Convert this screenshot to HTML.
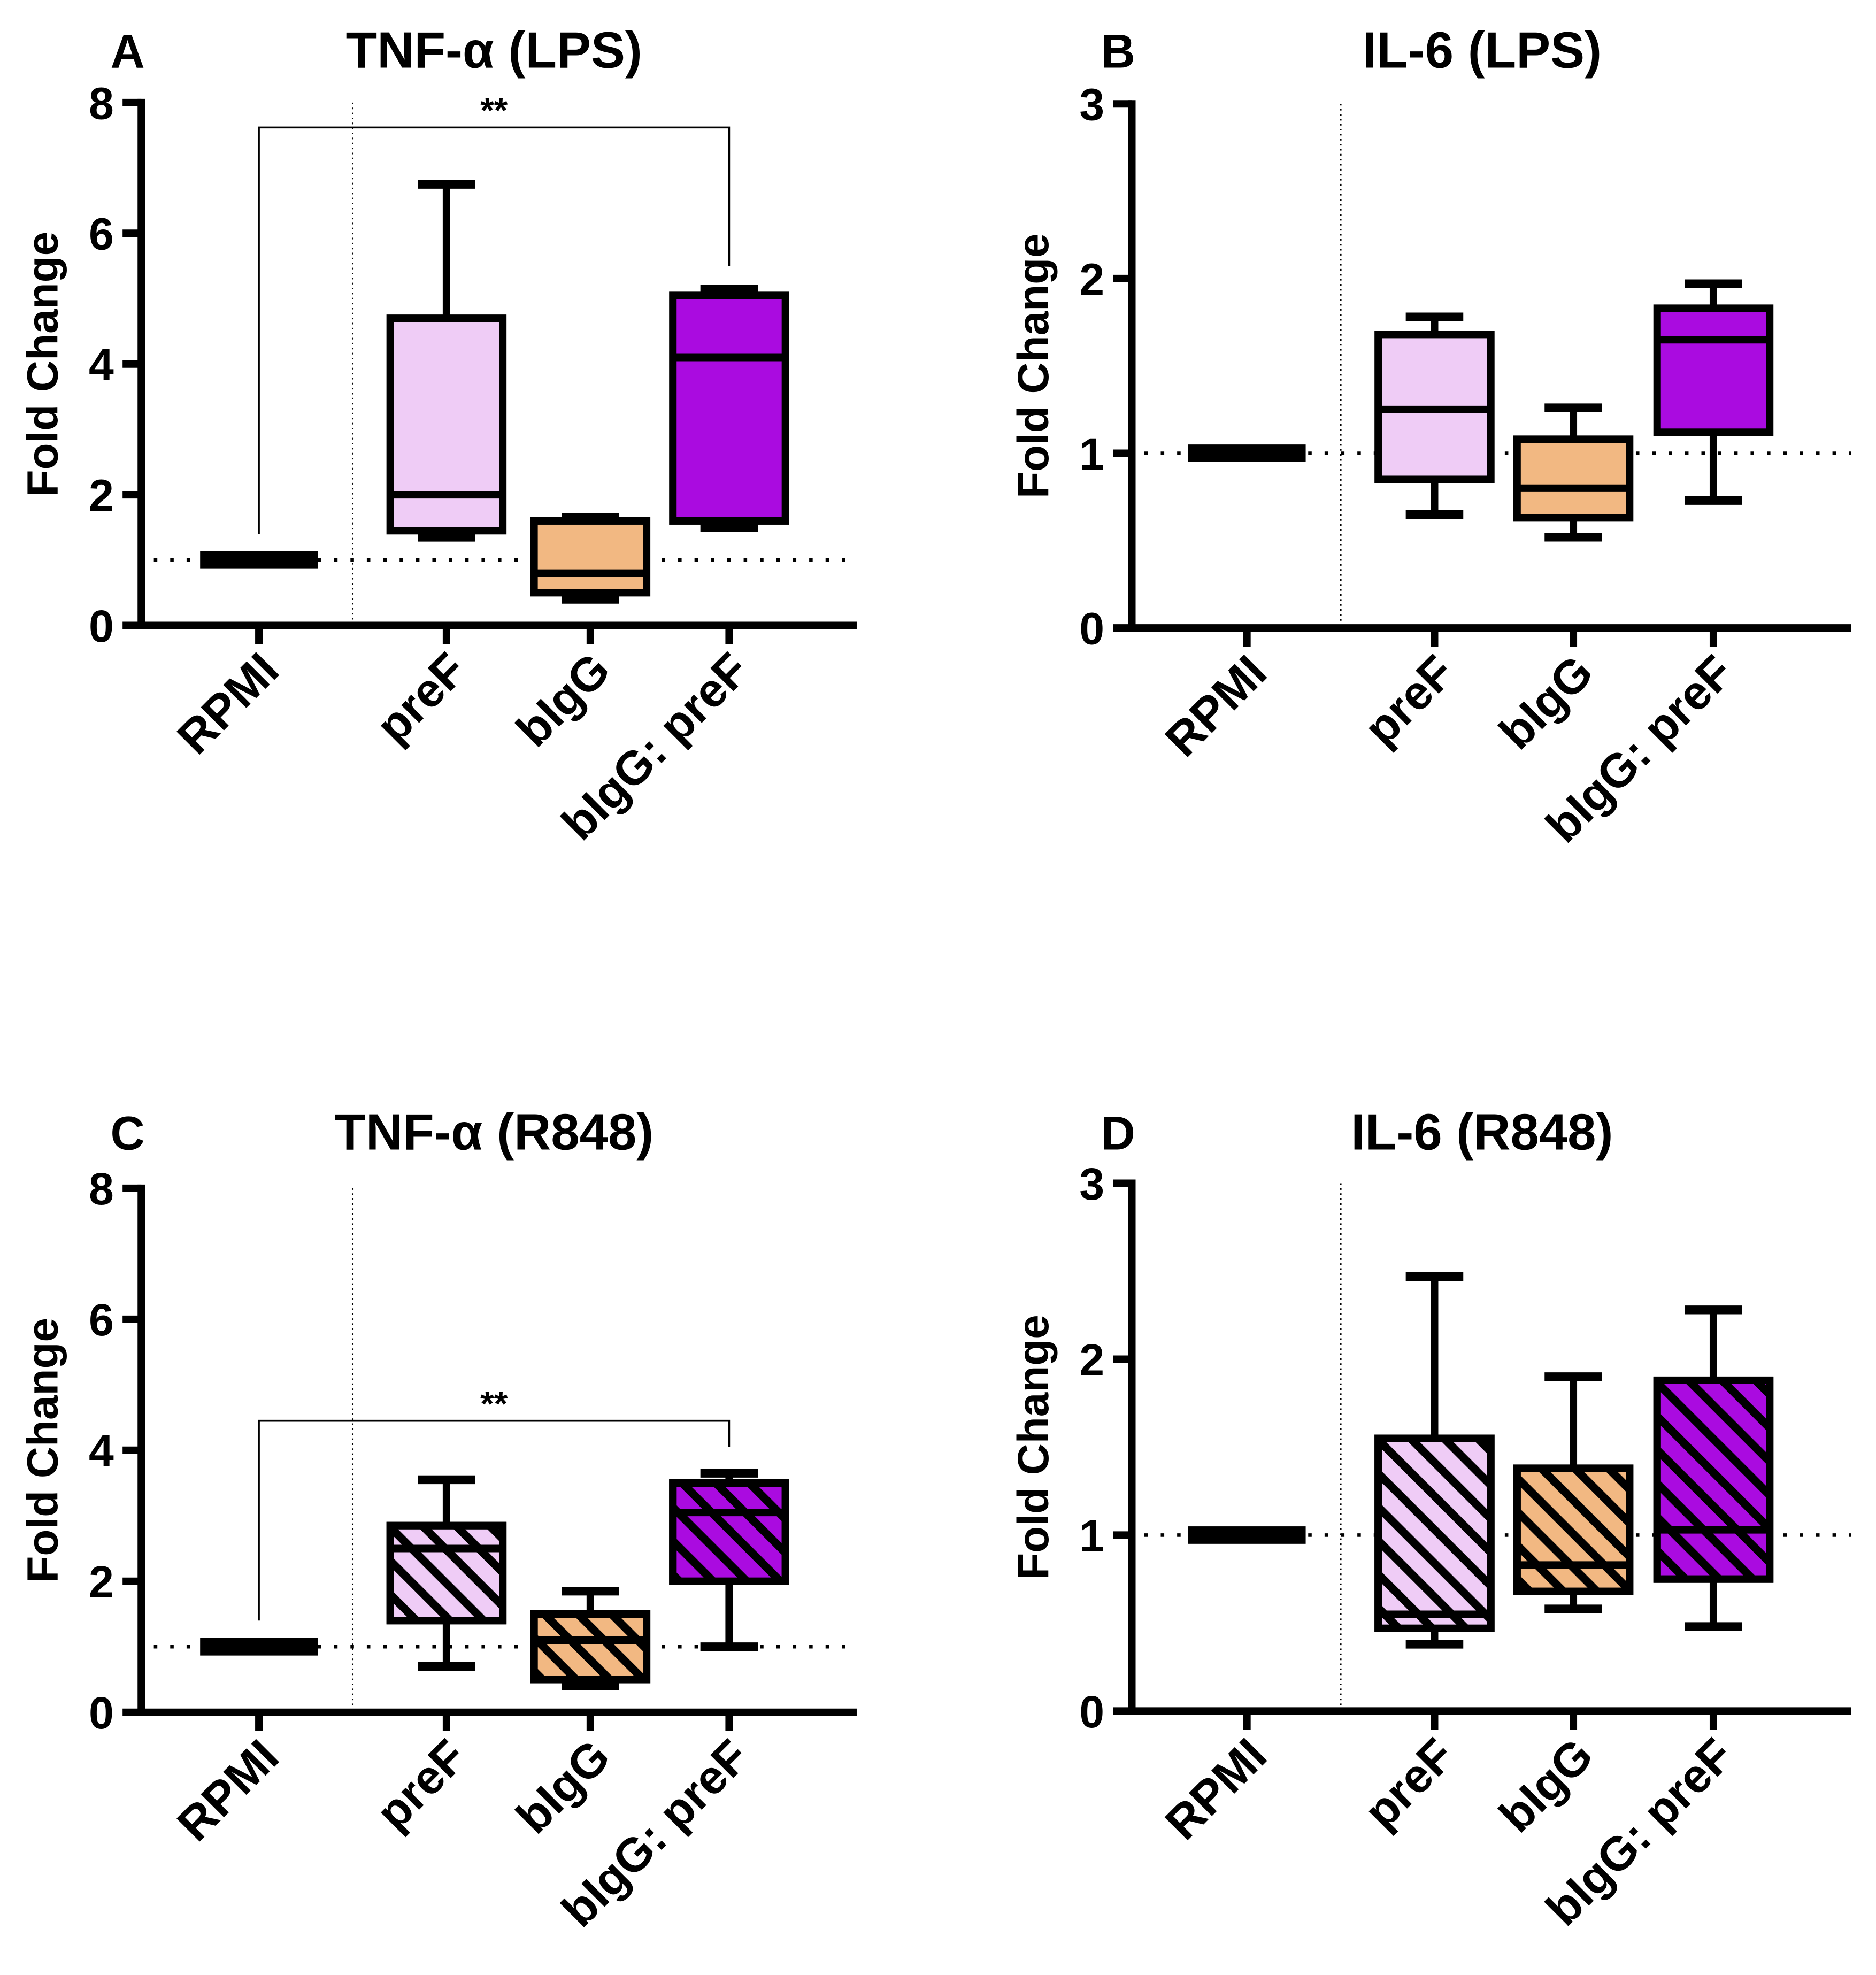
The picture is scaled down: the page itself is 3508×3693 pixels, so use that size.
<!DOCTYPE html>
<html><head><meta charset="utf-8"><style>
html,body{margin:0;padding:0;background:#fff}
svg{display:block}
text{font-family:"Liberation Sans",Arial,sans-serif;font-weight:bold;fill:#000}
</style></head><body>
<svg id="fig" width="3508" height="3693" viewBox="0 0 1500 1579" xmlns="http://www.w3.org/2000/svg">
<defs>
<pattern id="hatch" patternUnits="userSpaceOnUse" width="19" height="19" patternTransform="rotate(-45)">
<rect x="0" y="0" width="6.5" height="19" fill="#000"/>
</pattern>
</defs>
</svg>
<script>
const categories = ["RPMI", "preF", "bIgG", "bIgG: preF"];
const fills = ["#000", "#EFCCF6", "#F2B882", "#AA0BE0"];
// [min, q1, median, q3, max]
const aBoxes = [[1,1,1,1,1],[1.35,1.45,2.0,4.7,6.75],[0.4,0.5,0.8,1.6,1.65],[1.5,1.6,4.1,5.05,5.15]];
const bBoxes = [[1,1,1,1,1],[0.65,0.85,1.25,1.68,1.78],[0.52,0.63,0.8,1.08,1.26],[0.73,1.12,1.65,1.83,1.97]];
const cBoxes = [[1,1,1,1,1],[0.7,1.4,2.5,2.85,3.55],[0.4,0.5,1.1,1.5,1.85],[1.0,2.0,3.05,3.5,3.65]];
const dBoxes = [[1,1,1,1,1],[0.38,0.47,0.55,1.55,2.47],[0.58,0.68,0.83,1.38,1.9],[0.48,0.75,1.03,1.88,2.28]];
const ticksTNF = [0,2,4,6,8];
const ticksIL6 = [0,1,2,3];
const aSig = [7.62, 1.4, 5.5];
const cSig = [4.45, 1.4, 4.05];

const NS = "http://www.w3.org/2000/svg";
const svg = document.getElementById('fig');
function el(tag, attrs, parent){const e=document.createElementNS(NS,tag);for(const k in attrs)e.setAttribute(k,attrs[k]);(parent||svg).appendChild(e);return e;}

function panel(cfg){
  const g = el('g',{});
  
  
  const ax = cfg.ax, y0 = cfg.y0, yTop = cfg.yTop, xEnd = cfg.xEnd, ymax = cfg.ticks[cfg.ticks.length-1];
  const y = v => y0 - (y0 - yTop) * v / ymax;
  const xs = cfg.xs;
  let t = el('text',{x:ax-11,y:cfg.titleY,'font-size':38,'text-anchor':'middle'},g); t.textContent = cfg.letter;
   
  t = el('text',{x:cfg.titleX,y:cfg.titleY,'font-size':41,'text-anchor':'middle'},g); t.textContent = cfg.title;
   
  t = el('text',{x:0,y:0,'font-size':35,'text-anchor':'middle',transform:`translate(${ax-67},${(y0+yTop)/2}) rotate(-90)`},g); t.textContent='Fold Change';
   
  const vl = el('line',{x1:cfg.vx,x2:cfg.vx,y1:yTop,y2:y0-3,stroke:'#000','stroke-width':1.3,'stroke-dasharray':'1.3 2.7'},g);
   
  const hl = el('line',{x1:ax+10,x2:xEnd,y1:y(1),y2:y(1),stroke:'#000','stroke-width':2.8,'stroke-dasharray':'2.8 10.3'},g);
   
  cfg.boxes.forEach((b,i)=>{
    const bx = el('g',{},g);
    
    
    const cx = xs[i];
    if(i===0){
      el('rect',{x:cx-47,y:y(b[2])-7,width:94,height:14,fill:'#000'},bx);
      return;
    }
    const hw=45, cw=23, sw=6;
    el('line',{x1:cx,x2:cx,y1:y(b[4]),y2:y(b[3]),stroke:'#000','stroke-width':sw},bx);
    el('line',{x1:cx,x2:cx,y1:y(b[1]),y2:y(b[0]),stroke:'#000','stroke-width':sw},bx);
    el('line',{x1:cx-cw,x2:cx+cw,y1:y(b[4]),y2:y(b[4]),stroke:'#000','stroke-width':sw+1},bx);
    el('line',{x1:cx-cw,x2:cx+cw,y1:y(b[0]),y2:y(b[0]),stroke:'#000','stroke-width':sw+1},bx);
    el('rect',{x:cx-hw,y:y(b[3]),width:2*hw,height:y(b[1])-y(b[3]),fill:fills[i],stroke:'#000','stroke-width':sw},bx);
    if(cfg.hatch) el('rect',{x:cx-hw,y:y(b[3]),width:2*hw,height:y(b[1])-y(b[3]),fill:'url(#hatch)',stroke:'#000','stroke-width':sw},bx);
    el('line',{x1:cx-hw,x2:cx+hw,y1:y(b[2]),y2:y(b[2]),stroke:'#000','stroke-width':sw},bx);
  });
  const yaxis = el('line',{x1:ax,x2:ax,y1:yTop-3,y2:y0+3,stroke:'#000','stroke-width':6},g);
   
  const xaxis = el('line',{x1:ax-3,x2:xEnd,y1:y0,y2:y0,stroke:'#000','stroke-width':6},g);
   
  cfg.ticks.forEach(v=>{
    el('line',{x1:ax-15,x2:ax,y1:y(v),y2:y(v),stroke:'#000','stroke-width':6},g);
    const tl = el('text',{x:ax-22,y:y(v)+13,'font-size':36,'text-anchor':'end'},g); tl.textContent=v;
     
  });
  categories.forEach((c,i)=>{
    el('line',{x1:xs[i],x2:xs[i],y1:y0,y2:y0+15,stroke:'#000','stroke-width':6},g);
    const xl = el('text',{x:0,y:0,'font-size':38,'text-anchor':'end',transform:`translate(${xs[i]+18},${y0+38}) rotate(-45)`},g); xl.textContent=c;
     
  });
  if(cfg.sig){
    const s = cfg.sig, sg = el('g',{},g);
     
    el('polyline',{points:`${xs[0]},${y(s[1])} ${xs[0]},${y(s[0])} ${xs[3]},${y(s[0])} ${xs[3]},${y(s[2])}`,fill:'none',stroke:'#000','stroke-width':1.5},sg);
    const st = el('text',{x:(xs[0]+xs[3])/2,y:y(s[0])-4,'font-size':28,'text-anchor':'middle'},sg); st.textContent='**';
  }
}
const xsL=[207,357,472,583], xsR=[997,1147,1258,1370];
panel({letter:'A',title:'TNF-α (LPS)',titleX:395,titleY:54,ax:113,y0:500,yTop:82,xEnd:685,xs:xsL,vx:282,ticks:ticksTNF,boxes:aBoxes,sig:aSig});
panel({letter:'B',title:'IL-6 (LPS)',titleX:1185,titleY:54,ax:905,y0:502,yTop:83,xEnd:1480,xs:xsR,vx:1072,ticks:ticksIL6,boxes:bBoxes});
panel({letter:'C',title:'TNF-α (R848)',titleX:395,titleY:919,ax:113,y0:1369,yTop:950,xEnd:685,xs:xsL,vx:282,ticks:ticksTNF,boxes:cBoxes,sig:cSig,hatch:true});
panel({letter:'D',title:'IL-6 (R848)',titleX:1185,titleY:919,ax:905,y0:1368,yTop:946,xEnd:1480,xs:xsR,vx:1072,ticks:ticksIL6,boxes:dBoxes,hatch:true});
</script>
</body></html>
